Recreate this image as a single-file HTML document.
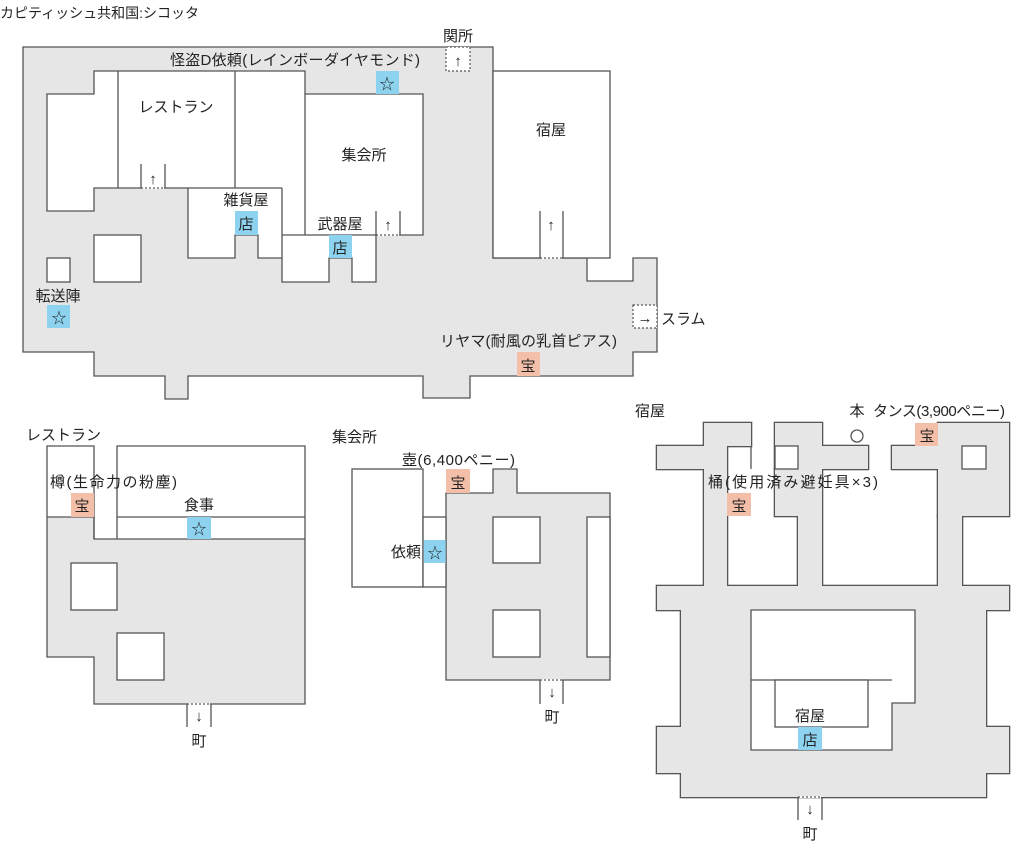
<!DOCTYPE html>
<html><head><meta charset="utf-8"><style>
html,body{margin:0;padding:0;background:#fff;}
svg{display:block;}
text{font-family:"Liberation Sans","Noto Sans CJK JP",sans-serif;font-size:15px;fill:#222;}
</style></head><body>
<svg width="1024" height="852" viewBox="0 0 1024 852" xmlns="http://www.w3.org/2000/svg">
<g stroke="#555" stroke-width="1.3" fill="none">
<!-- MAIN MAP -->
<polygon fill="#e6e6e6" points="23,47 493,47 493,258 587,258 587,281 633,281 633,258 657,258 657,352 633,352 633,376 470,376 470,398 423,398 423,376 188,376 188,399 165,399 165,376 94,376 94,352 23,352"/>
<rect x="493" y="71" width="117" height="187" fill="#fff"/>
<polygon fill="#fff" points="47,94 94,94 94,71 305,71 305,94 423,94 423,235 376,235 376,282 352,282 352,258 329,258 329,282 282,282 282,258 258,258 258,235 235,235 235,258 188,258 188,188 94,188 94,211 47,211"/>
<line x1="118" y1="71" x2="118" y2="188"/>
<line x1="235" y1="71" x2="235" y2="188"/>
<line x1="188" y1="188" x2="282" y2="188"/>
<line x1="282" y1="188" x2="282" y2="258"/>
<line x1="305" y1="94" x2="305" y2="235"/>
<line x1="282" y1="235" x2="376" y2="235"/>
<line x1="141" y1="164" x2="141" y2="188"/><line x1="165" y1="164" x2="165" y2="188"/>
<line x1="376" y1="211" x2="376" y2="235"/><line x1="400" y1="211" x2="400" y2="235"/>
<line x1="540" y1="211" x2="540" y2="258"/><line x1="563" y1="211" x2="563" y2="258"/>
<rect x="94" y="235" width="47" height="47" fill="#fff"/>
<rect x="47" y="258" width="23" height="24" fill="#fff"/>
<!-- door gaps -->
<g stroke="#fff" stroke-width="2"><line x1="142" y1="188" x2="164" y2="188"/><line x1="377" y1="235" x2="399" y2="235"/><line x1="541" y1="258" x2="562" y2="258"/></g>
<g stroke-dasharray="2,2" stroke-width="1.2">
<line x1="141" y1="188" x2="165" y2="188"/><line x1="376" y1="235" x2="400" y2="235"/><line x1="540" y1="258" x2="563" y2="258"/>
<rect x="446" y="47" width="24" height="24" fill="#fff"/>
<rect x="633" y="305" width="24" height="23" fill="#fff"/>
</g>
</g>
<g stroke="none">
<rect x="376" y="71" width="23" height="23" fill="#8dd3f0"/>
<rect x="235" y="211" width="23" height="24" fill="#8dd3f0"/>
<rect x="329" y="235" width="23" height="23" fill="#8dd3f0"/>
<rect x="47" y="305" width="23" height="23" fill="#8dd3f0"/>
<rect x="517" y="352" width="23" height="24" fill="#f4bfa8"/>
</g>
<text x="0" y="18" style="font-size:14px">カピティッシュ共和国:シコッタ</text>
<text x="170" y="65" textLength="250">怪盗D依頼(レインボーダイヤモンド)</text>
<text x="387" y="89" text-anchor="middle">☆</text>
<text x="458" y="41" text-anchor="middle">関所</text>
<text x="458" y="66" text-anchor="middle">↑</text>
<text x="176" y="112" text-anchor="middle">レストラン</text>
<text x="364" y="160" text-anchor="middle">集会所</text>
<text x="551" y="135" text-anchor="middle">宿屋</text>
<text x="153" y="184" text-anchor="middle">↑</text>
<text x="246" y="205" text-anchor="middle">雑貨屋</text>
<text x="246" y="229" text-anchor="middle">店</text>
<text x="340" y="229" text-anchor="middle">武器屋</text>
<text x="340" y="253" text-anchor="middle">店</text>
<text x="388" y="230" text-anchor="middle">↑</text>
<text x="551" y="230" text-anchor="middle">↑</text>
<text x="58" y="301" text-anchor="middle">転送陣</text>
<text x="59" y="323" text-anchor="middle">☆</text>
<text x="645" y="323" text-anchor="middle">→</text>
<text x="661" y="324">スラム</text>
<text x="440" y="346" textLength="177">リヤマ(耐風の乳首ピアス)</text>
<text x="528" y="371" text-anchor="middle">宝</text>

<!-- RESTAURANT -->
<g stroke="#555" stroke-width="1.3" fill="none">
<polygon fill="#e6e6e6" points="47,517 94,517 94,539 305,539 305,704 94,704 94,657 47,657"/>
<polyline points="47,517 47,446 94,446 94,539"/>
<polyline points="117,539 117,446 305,446 305,539"/>
<line x1="117" y1="517" x2="305" y2="517"/>
<rect x="71" y="563" width="46" height="47" fill="#fff"/>
<rect x="117" y="633" width="47" height="47" fill="#fff"/>
<line x1="187" y1="704" x2="187" y2="727"/><line x1="211" y1="704" x2="211" y2="727"/>
<line x1="188" y1="704" x2="210" y2="704" stroke="#fff" stroke-width="2"/>
<line x1="187" y1="704" x2="211" y2="704" stroke-dasharray="2,2"/>
</g>
<rect x="71" y="493" width="23" height="24" fill="#f4bfa8"/>
<rect x="187" y="517" width="24" height="22" fill="#8dd3f0"/>
<text x="26" y="440">レストラン</text>
<text x="50" y="487" textLength="127">樽(生命力の粉塵)</text>
<text x="82" y="511" text-anchor="middle">宝</text>
<text x="199" y="510" text-anchor="middle">食事</text>
<text x="199" y="534" text-anchor="middle">☆</text>
<text x="199" y="721" text-anchor="middle">↓</text>
<text x="199" y="746" text-anchor="middle">町</text>

<!-- MEETING HALL -->
<g stroke="#555" stroke-width="1.3" fill="none">
<polygon fill="#e6e6e6" points="446,493 493,493 493,469 517,469 517,493 610,493 610,680 446,680"/>
<rect x="352" y="469" width="71" height="118" fill="#fff"/>
<rect x="423" y="517" width="23" height="70" fill="#fff"/>
<rect x="493" y="517" width="47" height="46" fill="#fff"/>
<rect x="493" y="610" width="47" height="47" fill="#fff"/>
<rect x="587" y="517" width="23" height="140" fill="#fff"/>
<line x1="540" y1="680" x2="540" y2="704"/><line x1="563" y1="680" x2="563" y2="704"/>
<line x1="541" y1="680" x2="562" y2="680" stroke="#fff" stroke-width="2"/>
<line x1="540" y1="680" x2="563" y2="680" stroke-dasharray="2,2"/>
</g>
<rect x="446" y="469" width="24" height="24" fill="#f4bfa8"/>
<rect x="423.7" y="540" width="22" height="23" fill="#8dd3f0"/>
<text x="332" y="442">集会所</text>
<text x="402" y="465" textLength="113">壺(6,400ペニー)</text>
<text x="458" y="488" text-anchor="middle">宝</text>
<text x="421" y="557" text-anchor="end">依頼</text>
<text x="435" y="558" text-anchor="middle">☆</text>
<text x="552" y="697" text-anchor="middle">↓</text>
<text x="552" y="722" text-anchor="middle">町</text>

<!-- INN -->
<g stroke="#555" stroke-width="2.6" fill="#e6e6e6">
<rect x="704" y="423" width="47" height="23"/>
<rect x="657" y="446" width="47" height="23"/>
<rect x="704" y="446" width="23" height="164"/>
<rect x="775" y="423" width="47" height="46"/>
<rect x="822" y="446" width="46" height="23"/>
<rect x="775" y="469" width="23" height="47"/>
<rect x="798" y="469" width="24" height="141"/>
<rect x="892" y="446" width="46" height="23"/>
<rect x="938" y="423" width="71" height="93"/>
<rect x="938" y="516" width="24" height="94"/>
<rect x="657" y="586" width="352" height="24"/>
<rect x="681" y="610" width="305" height="187"/>
<rect x="657" y="727" width="24" height="46"/>
<rect x="986" y="727" width="23" height="46"/>
</g>
<g stroke="none" fill="#e6e6e6">
<rect x="704" y="423" width="47" height="23"/>
<rect x="657" y="446" width="47" height="23"/>
<rect x="704" y="446" width="23" height="164"/>
<rect x="775" y="423" width="47" height="46"/>
<rect x="822" y="446" width="46" height="23"/>
<rect x="775" y="469" width="23" height="47"/>
<rect x="798" y="469" width="24" height="141"/>
<rect x="892" y="446" width="46" height="23"/>
<rect x="938" y="423" width="71" height="93"/>
<rect x="938" y="516" width="24" height="94"/>
<rect x="657" y="586" width="352" height="24"/>
<rect x="681" y="610" width="305" height="187"/>
<rect x="657" y="727" width="24" height="46"/>
<rect x="986" y="727" width="23" height="46"/>
</g>
<g stroke="#555" stroke-width="1.3" fill="none">
<line x1="751" y1="446" x2="751" y2="469"/>
<rect x="775" y="446" width="23" height="23" fill="#fff"/>
<rect x="962" y="446" width="24" height="23" fill="#fff"/>
<polygon fill="#fff" points="751,610 915,610 915,703 892,703 892,750 751,750"/>
<line x1="751" y1="680" x2="892" y2="680"/>
<rect x="775" y="680" width="93" height="47" fill="#fff"/>
<line x1="798" y1="797" x2="798" y2="820"/><line x1="822" y1="797" x2="822" y2="820"/>
<line x1="799" y1="797" x2="821" y2="797" stroke="#fff" stroke-width="2"/>
<line x1="798" y1="797" x2="822" y2="797" stroke-dasharray="2,2"/>
<circle cx="857" cy="436" r="6"/>
</g>
<rect x="727" y="493" width="24" height="23" fill="#f4bfa8"/>
<rect x="915" y="423" width="23" height="23" fill="#f4bfa8"/>
<rect x="798" y="727" width="24" height="23" fill="#8dd3f0"/>
<text x="635" y="416">宿屋</text>
<text x="857" y="416" text-anchor="middle">本</text>
<text x="873" y="416" textLength="132">タンス(3,900ペニー)</text>
<text x="927" y="441" text-anchor="middle">宝</text>
<text x="708" y="487" textLength="170">桶(使用済み避妊具×3)</text>
<text x="739" y="511" text-anchor="middle">宝</text>
<text x="810" y="721" text-anchor="middle">宿屋</text>
<text x="810" y="745" text-anchor="middle">店</text>
<text x="810" y="814" text-anchor="middle">↓</text>
<text x="810" y="839" text-anchor="middle">町</text>
</svg>
</body></html>
